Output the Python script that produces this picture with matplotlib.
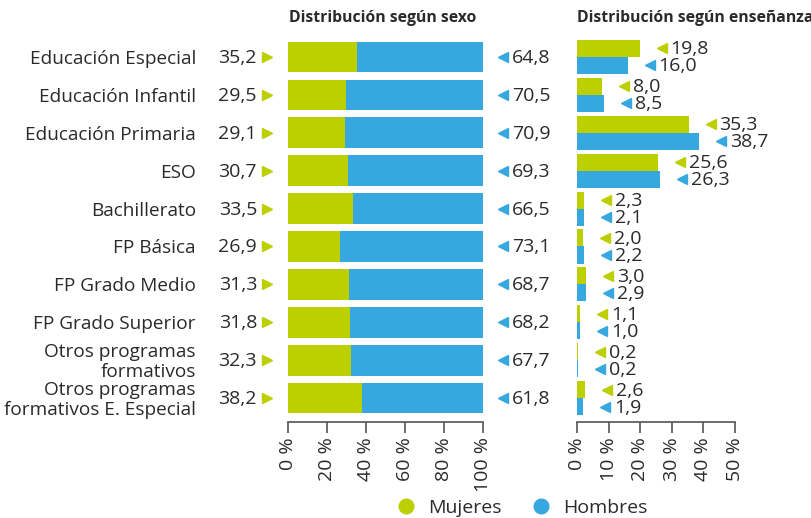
import matplotlib
matplotlib.use('Agg')
import matplotlib.pyplot as plt
from matplotlib.transforms import offset_copy
from matplotlib.lines import Line2D

plt.rcParams['font.family'] = ['Open Sans', 'DejaVu Sans']

# Datos
categorias = ['Educación Especial', 'Educación Infantil', 'Educación Primaria', 'ESO',
              'Bachillerato', 'FP Básica', 'FP Grado Medio', 'FP Grado Superior',
              'Otros programas\nformativos', 'Otros programas\nformativos E. Especial']
sexo_mujeres = [35.2, 29.5, 29.1, 30.7, 33.5, 26.9, 31.3, 31.8, 32.3, 38.2]
sexo_hombres = [64.8, 70.5, 70.9, 69.3, 66.5, 73.1, 68.7, 68.2, 67.7, 61.8]
ens_mujeres = [19.8, 8.0, 35.3, 25.6, 2.3, 2.0, 3.0, 1.1, 0.2, 2.6]
ens_hombres = [16.0, 8.5, 38.7, 26.3, 2.1, 2.2, 2.9, 1.0, 0.2, 1.9]
ticks_sexo = [0, 20, 40, 60, 80, 100]
ticks_ens = [0, 10, 20, 30, 40, 50]

VERDE = '#bccf00'
AZUL = '#36a7df'
TEXTO = '#2a2a2a'
EJE = '#555555'
FS = 13.7


def fmt(v):
    return f'{v:.1f}'.replace('.', ',')


def estilo_eje(ax, ticks):
    for s in ['top', 'right', 'left']:
        ax.spines[s].set_visible(False)
    ax.spines['bottom'].set_color(EJE)
    ax.spines['bottom'].set_linewidth(1.2)
    ax.set_yticks([])
    ax.set_xticks(ticks)
    ax.set_xticklabels([f'{t} %' for t in ticks], rotation=90, fontsize=14, color=TEXTO)
    ax.tick_params(axis='x', direction='out', length=8, width=1.2, color=EJE, pad=3)
    ax.set_ylim(9.63, -0.5)


fig = plt.figure(figsize=(8.12, 5.18), dpi=100)
ax1 = fig.add_axes([288 / 812, 1 - 422 / 518, 195 / 812, 384 / 518])
ax2 = fig.add_axes([577 / 812, 1 - 422 / 518, 158 / 812, 384 / 518])

pos = list(range(len(categorias)))

# Distribución según sexo (barras apiladas al 100 %)
ax1.barh(pos, sexo_mujeres, height=0.81, color=VERDE)
ax1.barh(pos, sexo_hombres, left=sexo_mujeres, height=0.81, color=AZUL)
ax1.set_xlim(0, 100)
estilo_eje(ax1, ticks_sexo)

for i, (m, h) in enumerate(zip(sexo_mujeres, sexo_hombres)):
    ax1.annotate(categorias[i], (0, i), xytext=(-92, -2), textcoords='offset pixels',
                 ha='right', va='center', fontsize=FS, color=TEXTO, linespacing=1.12)
    ax1.annotate(fmt(m), (0, i), xytext=(-31, -1), textcoords='offset pixels',
                 ha='right', va='center', fontsize=14, color=TEXTO)
    ax1.annotate(fmt(h), (100, i), xytext=(29, -1), textcoords='offset pixels',
                 ha='left', va='center', fontsize=14, color=TEXTO)

tr_izq = offset_copy(ax1.transData, fig=fig, x=-21, y=0, units='dots')
tr_der = offset_copy(ax1.transData, fig=fig, x=20, y=0, units='dots')
ax1.plot([0] * len(pos), pos, linestyle='none', marker='>', markersize=7,
         color=VERDE, transform=tr_izq, clip_on=False)
ax1.plot([100] * len(pos), pos, linestyle='none', marker='<', markersize=7,
         color=AZUL, transform=tr_der, clip_on=False)

# Distribución según enseñanza
alto = 0.45
pos_m = [p - alto / 2 for p in pos]
pos_h = [p + alto / 2 for p in pos]
ax2.barh(pos_m, ens_mujeres, height=alto, color=VERDE)
ax2.barh(pos_h, ens_hombres, height=alto, color=AZUL)
ax2.set_xlim(0, 50)
estilo_eje(ax2, ticks_ens)

tr_mk = offset_copy(ax2.transData, fig=fig, x=22, y=0, units='dots')
ax2.plot(ens_mujeres, pos_m, linestyle='none', marker='<', markersize=7,
         color=VERDE, transform=tr_mk, clip_on=False)
ax2.plot(ens_hombres, pos_h, linestyle='none', marker='<', markersize=7,
         color=AZUL, transform=tr_mk, clip_on=False)
for v, y in zip(ens_mujeres + ens_hombres, pos_m + pos_h):
    ax2.annotate(fmt(v), (v, y), xytext=(31, -1), textcoords='offset pixels',
                 ha='left', va='center', fontsize=14, color=TEXTO, annotation_clip=False)

# Títulos
fig.text(383 / 812, 1 - 18 / 518, 'Distribución según sexo', ha='center', va='center',
         fontsize=11.3, fontweight='bold', color=TEXTO)
fig.text(577 / 812, 1 - 18 / 518, 'Distribución según enseñanza', ha='left', va='center',
         fontsize=11.3, fontweight='bold', color=TEXTO)

# Leyenda
handles = [Line2D([], [], linestyle='none', marker='o', markersize=10.5, color=VERDE),
           Line2D([], [], linestyle='none', marker='o', markersize=10.5, color=AZUL)]
fig.legend(handles, ['Mujeres', 'Hombres'], loc='center', bbox_to_anchor=(521 / 812, 1 - 508 / 518),
           ncol=2, frameon=False, fontsize=14, handletextpad=0.55, columnspacing=1.4,
           handlelength=1.2, labelcolor=TEXTO)

fig.savefig('out.png', dpi=100)
